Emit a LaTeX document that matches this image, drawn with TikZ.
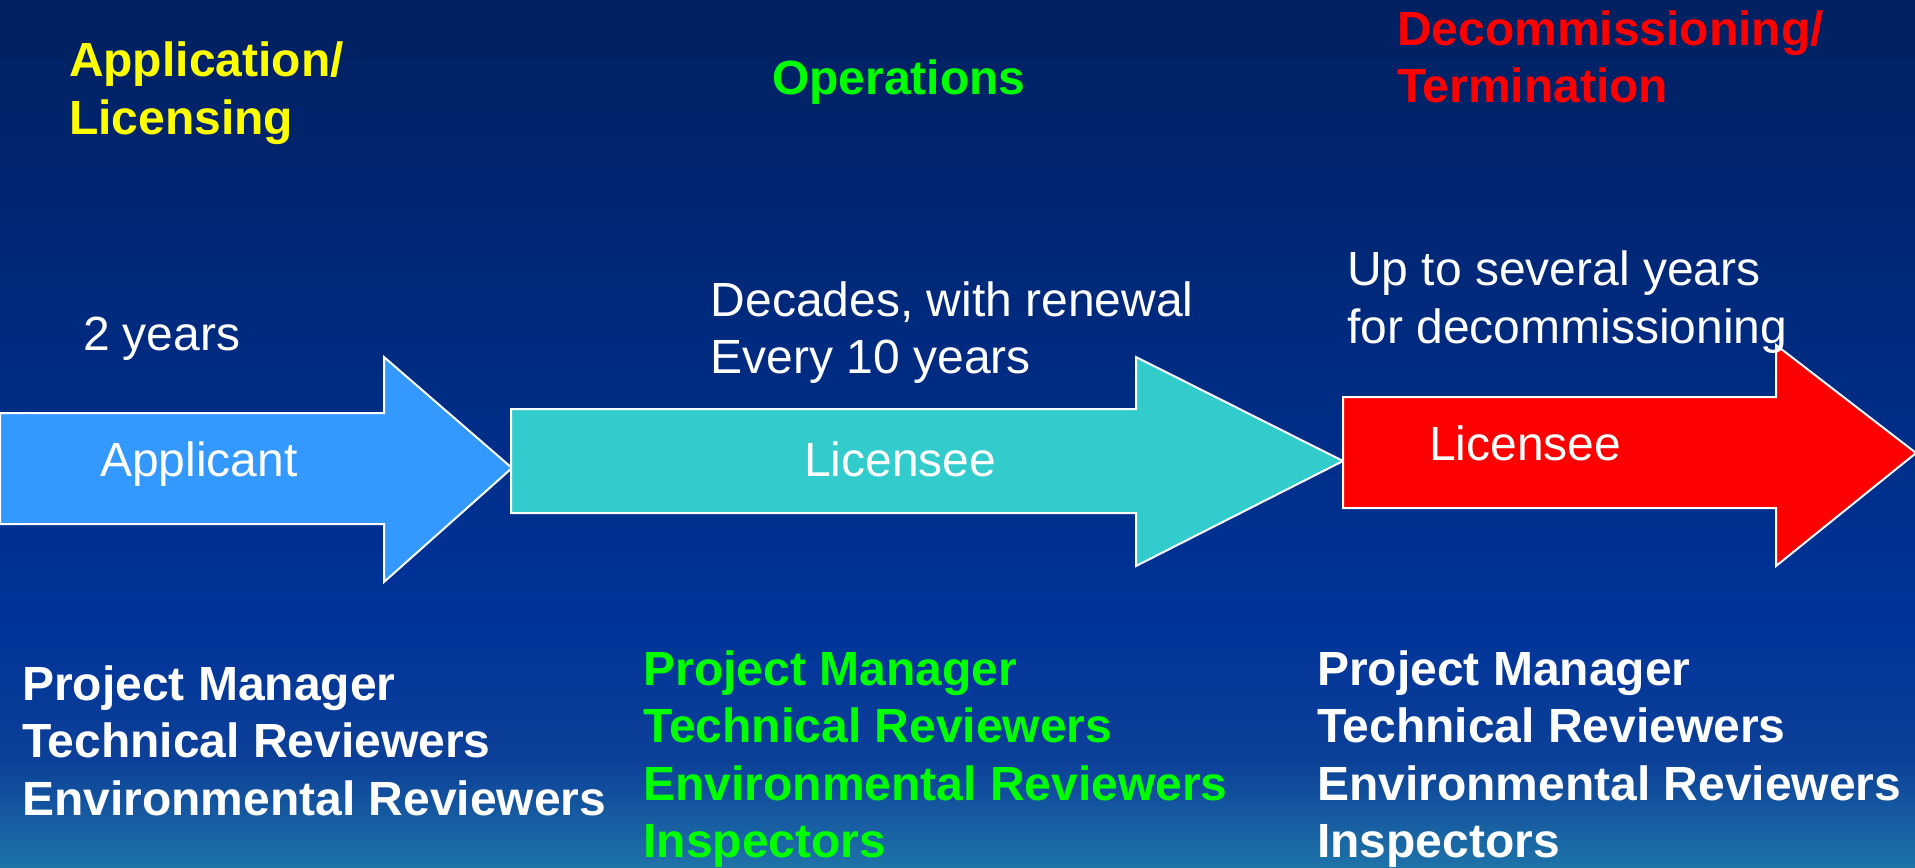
\documentclass[tikz,border=0pt]{standalone}
\usepackage{fontspec}
\setmainfont{Liberation Sans}
\definecolor{bgtop}{RGB}{0,32,96}
\definecolor{bgmid}{RGB}{0,51,153}
\definecolor{bglow}{RGB}{12,64,152}
\definecolor{bgbot}{RGB}{30,115,168}
\definecolor{arrblue}{RGB}{51,153,255}
\definecolor{arrcyan}{RGB}{51,204,204}
\definecolor{arrred}{RGB}{255,0,0}
\definecolor{hyellow}{RGB}{255,255,0}
\definecolor{hgreen}{RGB}{0,255,0}
\begin{document}
\begin{tikzpicture}[x=0.5pt,y=-0.5pt,
  txt/.style={anchor=base west, inner sep=0pt, outer sep=0pt,
    font=\fontsize{24pt}{28.8pt}\selectfont, text=white},
  bold/.style={txt, font=\fontsize{24pt}{28.8pt}\selectfont\bfseries},
  arrowshape/.style={draw=white, line width=1pt, line join=miter}]
\useasboundingbox (0,0) rectangle (1915,867);
% background
\shade[top color=bgtop, bottom color=bgmid] (0,0) rectangle (1915,621);
\shade[top color=bgmid, bottom color=bglow] (0,620) rectangle (1915,761);
\shade[top color=bglow, bottom color=bgbot] (0,760) rectangle (1915,867);
% arrows
\filldraw[arrowshape, fill=arrblue]
  (0,413) -- (384,413) -- (384,357) -- (512,468) -- (384,582) -- (384,524) -- (0,524) -- cycle;
\filldraw[arrowshape, fill=arrcyan]
  (511,409) -- (1136,409) -- (1136,357) -- (1343,461) -- (1136,566) -- (1136,513) -- (511,513) -- cycle;
\filldraw[arrowshape, fill=arrred]
  (1343,397) -- (1776,397) -- (1776,345) -- (1916,453) -- (1776,566) -- (1776,508) -- (1343,508) -- cycle;
% arrow labels
\node[txt] (applicant) at (100,476.7) {Applicant};
\node[txt] (licensee1) at (804,476) {Licensee};
\node[txt] (licensee2) at (1429,460.7) {Licensee};
% headings
\node[bold, text=hyellow] (ph1a) at (69,76.7) {Application/};
\node[bold, text=hyellow] (ph1b) at (69,134.3) {Licensing};
\node[bold, text=hgreen] (ph2) at (772,94) {Operations};
\node[bold, text=arrred] (ph3a) at (1397,45) {Decommissioning/};
\node[bold, text=arrred] (ph3b) at (1397,102.7) {Termination};
% durations
\node[txt] (dur1) at (83,350) {2 years};
\node[txt] (dur2a) at (710.7,316.7) {Decades, with renewal};
\node[txt] (dur2b) at (710.7,373.3) {Every 10 years};
\node[txt] (dur3a) at (1347,285.7) {Up to several years};
\node[txt] (dur3b) at (1347,343.3) {for decommissioning};
% staff lists
\node[bold] (s1a) at (22,700) {Project Manager};
\node[bold] (s1b) at (22,757) {Technical Reviewers};
\node[bold] (s1c) at (22,815) {Environmental Reviewers};
\node[bold, text=hgreen] (s2a) at (643.5,685) {Project Manager};
\node[bold, text=hgreen] (s2b) at (643.5,742) {Technical Reviewers};
\node[bold, text=hgreen] (s2c) at (643.5,800) {Environmental Reviewers};
\node[bold, text=hgreen] (s2d) at (643.5,857) {Inspectors};
\node[bold] (s3a) at (1317,685) {Project Manager};
\node[bold] (s3b) at (1317,742) {Technical Reviewers};
\node[bold] (s3c) at (1317,800) {Environmental Reviewers};
\node[bold] (s3d) at (1317,857) {Inspectors};
\end{tikzpicture}
\end{document}
